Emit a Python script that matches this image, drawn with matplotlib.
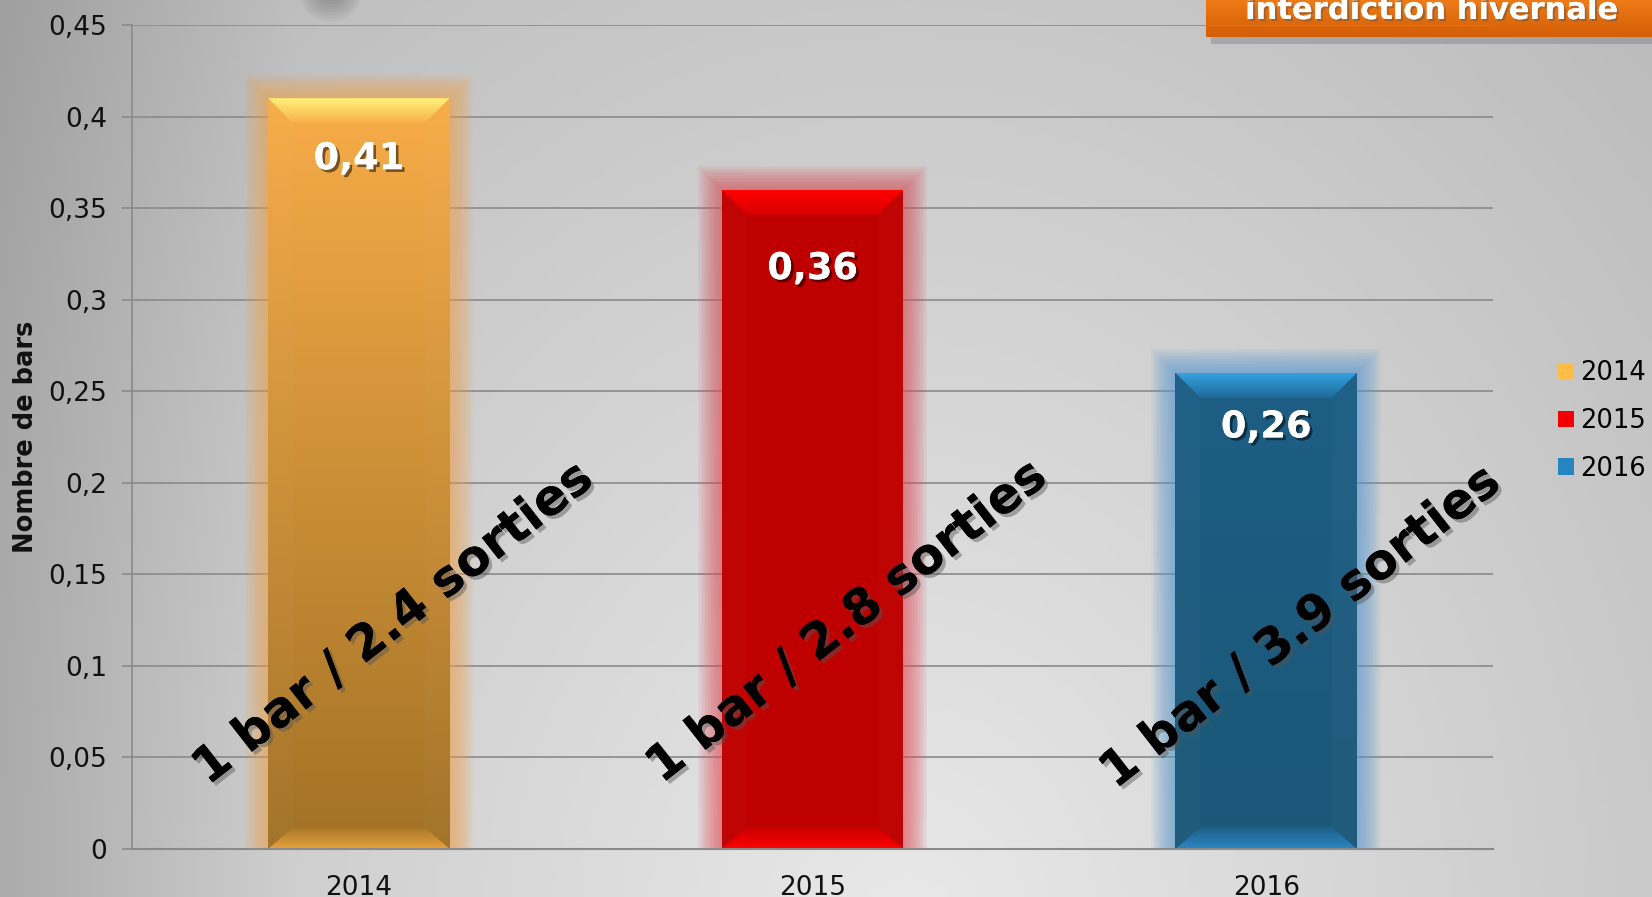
import numpy as np
import matplotlib
matplotlib.use("Agg")
import matplotlib.pyplot as plt
from matplotlib.patches import Rectangle, Polygon, Patch, Ellipse
from matplotlib.colors import LinearSegmentedColormap
import matplotlib.patheffects as pe

# ---------------- data ----------------
categories = ["2014", "2015", "2016"]
values = [0.41, 0.36, 0.26]
value_labels = ["0,41", "0,36", "0,26"]
ratio_labels = ["1 bar / 2.4 sorties", "1 bar / 2.8 sorties", "1 bar / 3.9 sorties"]
yticks = [0, 0.05, 0.1, 0.15, 0.2, 0.25, 0.3, 0.35, 0.4, 0.45]
ytick_labels = ["0", "0,05", "0,1", "0,15", "0,2", "0,25", "0,3", "0,35", "0,4", "0,45"]
y_label = "Nombre de bars"
title_text = "interdiction hivernale"

# styles
body_top = ["#F7AC48", "#C00000", "#1E5E85"]
body_bot = ["#A27226", "#BE0000", "#1B5878"]
bevel_top_hi = ["#FFF27A", "#FF0000", "#34A2E0"]
bevel_top_lo = ["#F8B04A", "#D80000", "#1F6A98"]
bevel_bot_hi = ["#E8A23E", "#FF0000", "#2C86C0"]
bevel_bot_lo = ["#A77728", "#C80000", "#1D5F88"]
glow = ["#F2A654", "#E0505A", "#5A9AD0"]
legend_cols = ["#FDBE48", "#F00000", "#2585C0"]
label_y = [0.377, 0.317, 0.2305]
ratio_y = [0.123, 0.124, 0.121]

W, H, DPI = 16.52, 8.97, 100
fig = plt.figure(figsize=(W, H), dpi=DPI)

# ---------------- background ----------------
bg = fig.add_axes([0, 0, 1, 1], zorder=-10)
xx, yy = np.meshgrid(np.linspace(0, 1, 400), np.linspace(0, 1, 220))
d = np.sqrt(((xx - 0.55) / 0.45) ** 2 + ((yy + 0.05) / 1.0) ** 2)
b = 0.915 - 0.125 * d - 0.09 * np.clip((0.18 - xx) / 0.18, 0, 1)
b = np.clip(b, 0, 1)
bg.imshow(np.dstack([b, b, b]), origin="lower", extent=[0, 1, 0, 1], aspect="auto")
bg.set_xlim(0, 1); bg.set_ylim(0, 1); bg.axis("off")
# small shadow blob at top
for i in range(8):
    bg.add_patch(Ellipse((0.2, 1.005), 0.012 + 0.0035 * i, 0.012 + 0.0065 * i,
                         color="#707070", alpha=0.08, lw=0))

# ---------------- main axes ----------------
ax = fig.add_axes([132 / 1652, 1 - 849 / 897, (1493 - 132) / 1652, (849 - 25) / 897])
ax.set_facecolor("none")
ymax = 0.45
ax.set_xlim(-0.5, 2.5)
ax.set_ylim(0, ymax)

x = np.arange(len(categories))
bw = 0.40
px_x = 3.0 / (1493 - 132)        # data units per pixel in x
px_y = ymax / (849 - 25)         # data units per pixel in y

def grad_fill(verts, ctop, cbot, y0, y1, z):
    poly = Polygon(verts, closed=True, facecolor="none", edgecolor="none")
    ax.add_patch(poly)
    cm = LinearSegmentedColormap.from_list("g", [cbot, ctop])
    xs = [v[0] for v in verts]
    im = ax.imshow(np.linspace(0, 1, 256).reshape(-1, 1), cmap=cm, origin="lower",
                   extent=[min(xs), max(xs), y0, y1], aspect="auto", zorder=z)
    im.set_clip_path(poly)

bars = ax.bar(x, values, width=bw, color="none", edgecolor="none", zorder=3)
for i, rect in enumerate(bars):
    x0 = rect.get_x(); x1 = x0 + rect.get_width(); h = rect.get_height()
    # soft glow
    for k in range(1, 17):
        pad = k * 1.5
        ax.add_patch(Rectangle((x0 - pad * px_x, 0), (x1 - x0) + 2 * pad * px_x,
                               h + pad * px_y, color=glow[i], alpha=0.06, lw=0, zorder=2))
    # body
    grad_fill([(x0, 0), (x1, 0), (x1, h), (x0, h)], body_top[i], body_bot[i], 0, h, 3)
    dx = 25 * px_x; dy = 25 * px_y
    # top bevel
    grad_fill([(x0, h), (x1, h), (x1 - dx, h - dy), (x0 + dx, h - dy)],
              bevel_top_hi[i], bevel_top_lo[i], h - dy, h, 4)
    # bottom bevel
    dyb = 22 * px_y
    grad_fill([(x0, 0), (x1, 0), (x1 - dx, dyb), (x0 + dx, dyb)],
              bevel_bot_lo[i], bevel_bot_hi[i], 0, dyb, 4)
    # side bevels (very subtle)
    ax.add_patch(Polygon([(x0, 0), (x0 + dx, dyb), (x0 + dx, h - dy), (x0, h)],
                         closed=True, facecolor="white", alpha=0.02, lw=0, zorder=4))
    ax.add_patch(Polygon([(x1, 0), (x1 - dx, dyb), (x1 - dx, h - dy), (x1, h)],
                         closed=True, facecolor="white", alpha=0.02, lw=0, zorder=4))

# grid and axes
ax.set_yticks(yticks)
ax.set_yticklabels(ytick_labels)
ax.grid(axis="y", color="#8a8a8a", lw=1.2, zorder=1)
ax.set_axisbelow(True)
for s in ["top", "right"]:
    ax.spines[s].set_visible(False)
ax.spines["left"].set_color("#8a8a8a"); ax.spines["left"].set_linewidth(1.2)
ax.spines["bottom"].set_color("#8a8a8a"); ax.spines["bottom"].set_linewidth(1.5)
ax.spines["bottom"].set_zorder(6)
ax.tick_params(axis="y", length=7, width=1.2, color="#8a8a8a", pad=11,
               labelsize=19, labelcolor="#111111")
ax.set_xticks(x)
ax.set_xticklabels(categories)
ax.tick_params(axis="x", length=0, pad=19, labelsize=19, labelcolor="#111111")
ax.set_ylabel(y_label, fontsize=18.5, fontweight="bold", color="#111111")
ax.yaxis.set_label_coords(-0.068, 0.5)

# value labels
for i, v in enumerate(values):
    ax.text(x[i], label_y[i], value_labels[i], ha="center", va="center",
            fontsize=26.5, fontweight="bold", color="white", zorder=8,
            path_effects=[pe.withSimplePatchShadow(offset=(2, -2), shadow_rgbFace="black",
                                                   alpha=0.5), pe.Normal()])

# ratio annotations
for i in range(len(values)):
    ax.text(x[i] + 0.075, ratio_y[i], ratio_labels[i], ha="center", va="center",
            rotation=38, rotation_mode="anchor", fontsize=35.5, fontweight="bold",
            color="black", zorder=9,
            path_effects=[pe.withSimplePatchShadow(offset=(2.5, -2.5), shadow_rgbFace="#555555",
                                                   alpha=0.45), pe.Normal()])

# legend
handles = [Patch(facecolor=c, edgecolor="none", label=l) for c, l in zip(legend_cols, categories)]
fig.legend(handles=handles, loc="center left", bbox_to_anchor=(1558 / 1652, 1 - 421 / 897),
           frameon=False, fontsize=18.5, handlelength=0.62, handleheight=0.62,
           handletextpad=0.25, labelspacing=0.85, borderpad=0, borderaxespad=0)

# title box (cut at top)
bx0 = 1206 / 1652; by0 = 1 - 37 / 897
bg.add_patch(Rectangle((bx0 + 0.003, by0 - 0.008), 1 - bx0, 0.1, color="#707070", alpha=0.35, lw=0))
box = Rectangle((bx0, by0), 1 - bx0, 0.1, facecolor="none", edgecolor="none")
bg.add_patch(box)
cmb = LinearSegmentedColormap.from_list("o", ["#D45E05", "#EE7A18"])
imb = bg.imshow(np.linspace(0, 1, 64).reshape(-1, 1), cmap=cmb, origin="lower",
                extent=[bx0, 1, by0, 1], aspect="auto", zorder=2)
imb.set_clip_path(box)
fig.text((1239 + 1623) / 2 / 1652, 1 - 19 / 897, title_text, ha="center", va="baseline",
         fontsize=22, fontweight="bold", color="white", zorder=5,
         path_effects=[pe.withSimplePatchShadow(offset=(1.5, -1.5), alpha=0.4), pe.Normal()])

fig.savefig("out.png", dpi=DPI)
